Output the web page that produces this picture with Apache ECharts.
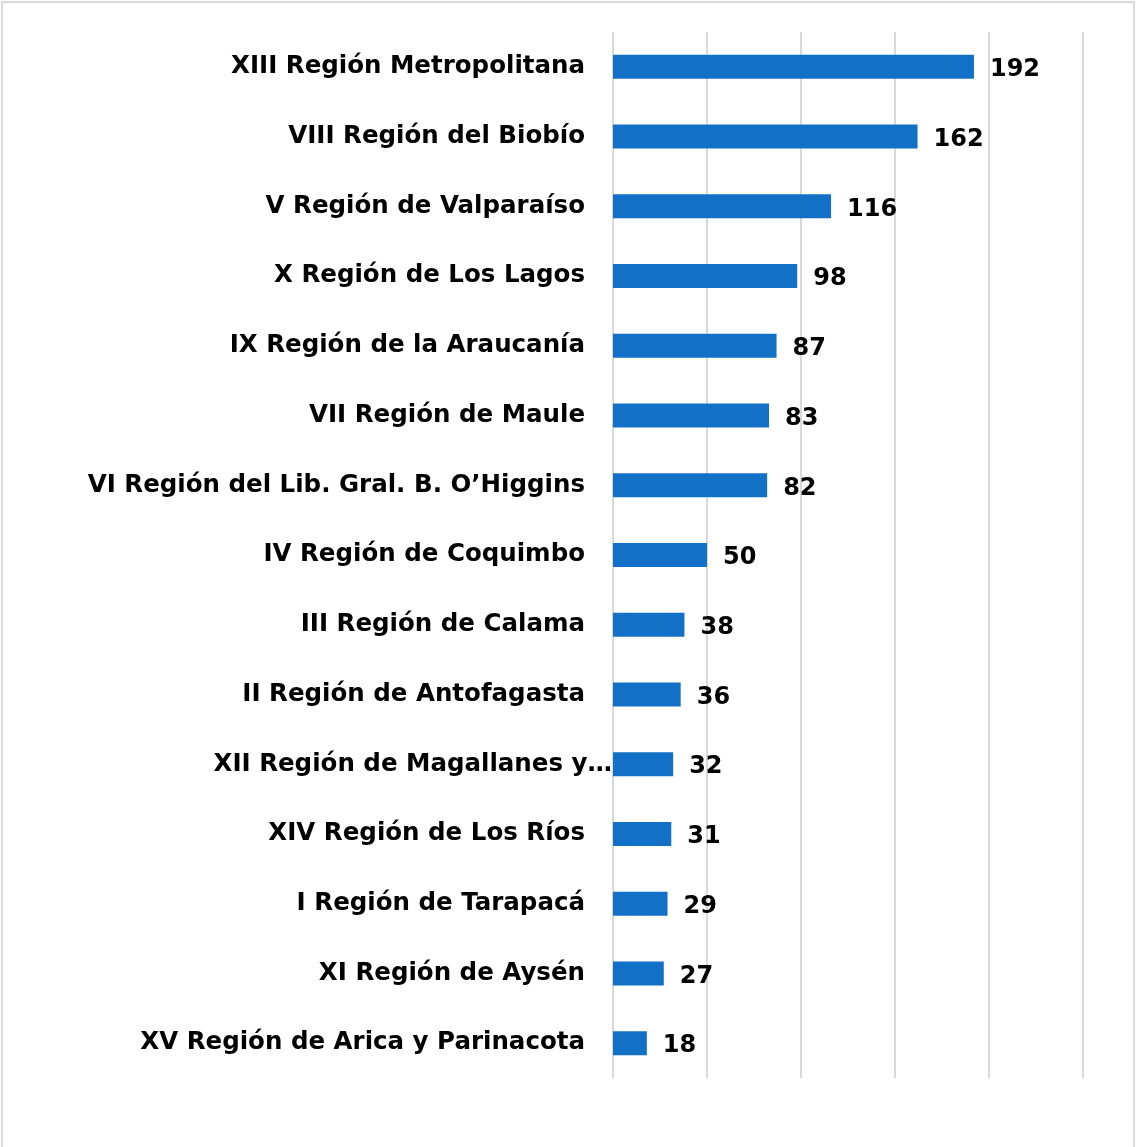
<!DOCTYPE html>
<html><head><meta charset="utf-8">
<script src="https://cdn.jsdelivr.net/npm/echarts@6/dist/echarts.min.js"></script>
<style>
html,body{margin:0;padding:0;background:#fff;}
#wrap{position:relative;width:1138px;height:1147px;}
#chart{position:absolute;left:0;top:0;width:1138px;height:1147px;}
#frame{position:absolute;left:1px;top:1px;width:1134px;height:1146px;border:2px solid #d9d9d9;border-bottom:none;box-sizing:border-box;pointer-events:none;}
</style></head>
<body><div id="wrap"><div id="chart"></div><div id="frame"></div></div>
<script>
const categories = [
  "XIII Región Metropolitana",
  "VIII Región del Biobío",
  "V Región de Valparaíso",
  "X Región de Los Lagos",
  "IX Región de la Araucanía",
  "VII Región de Maule",
  "VI Región del Lib. Gral. B. O’Higgins",
  "IV Región de Coquimbo",
  "III Región de Calama",
  "II Región de Antofagasta",
  "XII Región de Magallanes y…",
  "XIV Región de Los Ríos",
  "I Región de Tarapacá",
  "XI Región de Aysén",
  "XV Región de Arica y Parinacota"
];
const values = [192, 162, 116, 98, 87, 83, 82, 50, 38, 36, 32, 31, 29, 27, 18];
const axisMin = 0, axisMax = 250, axisInterval = 50;

const chart = echarts.init(document.getElementById('chart'));
const font = '"DejaVu Sans", sans-serif';
chart.setOption({
  animation: false,
  grid: {left: 613, right: 55, top: 32, bottom: 69, containLabel: false},
  xAxis: {
    type: 'value', min: axisMin, max: axisMax, interval: axisInterval,
    axisLabel: {show: false}, axisLine: {show: false}, axisTick: {show: false},
    splitLine: {show: true, lineStyle: {color: '#d9d9d9', width: 2}}
  },
  yAxis: {
    type: 'category', data: categories, inverse: true,
    axisLine: {show: false}, axisTick: {show: false},
    axisLabel: {
      margin: 28, color: '#000', fontFamily: font, fontWeight: 'bold', fontSize: 24.5,
      formatter: function (v) { return v.indexOf('…') >= 0 ? '{t|' + v + '}' : v; },
      rich: {t: {color: '#000', fontFamily: font, fontWeight: 'bold', fontSize: 24.5, padding: [0, -27, 0, 0]}}
    }
  },
  series: [{
    type: 'bar', data: values, barWidth: 24,
    itemStyle: {color: '#1270C6'},
    label: {show: true, position: 'right', distance: 16, offset: [0, 3], color: '#000',
      fontFamily: font, fontWeight: 'bold', fontSize: 24}
  }]
});
</script></body></html>
